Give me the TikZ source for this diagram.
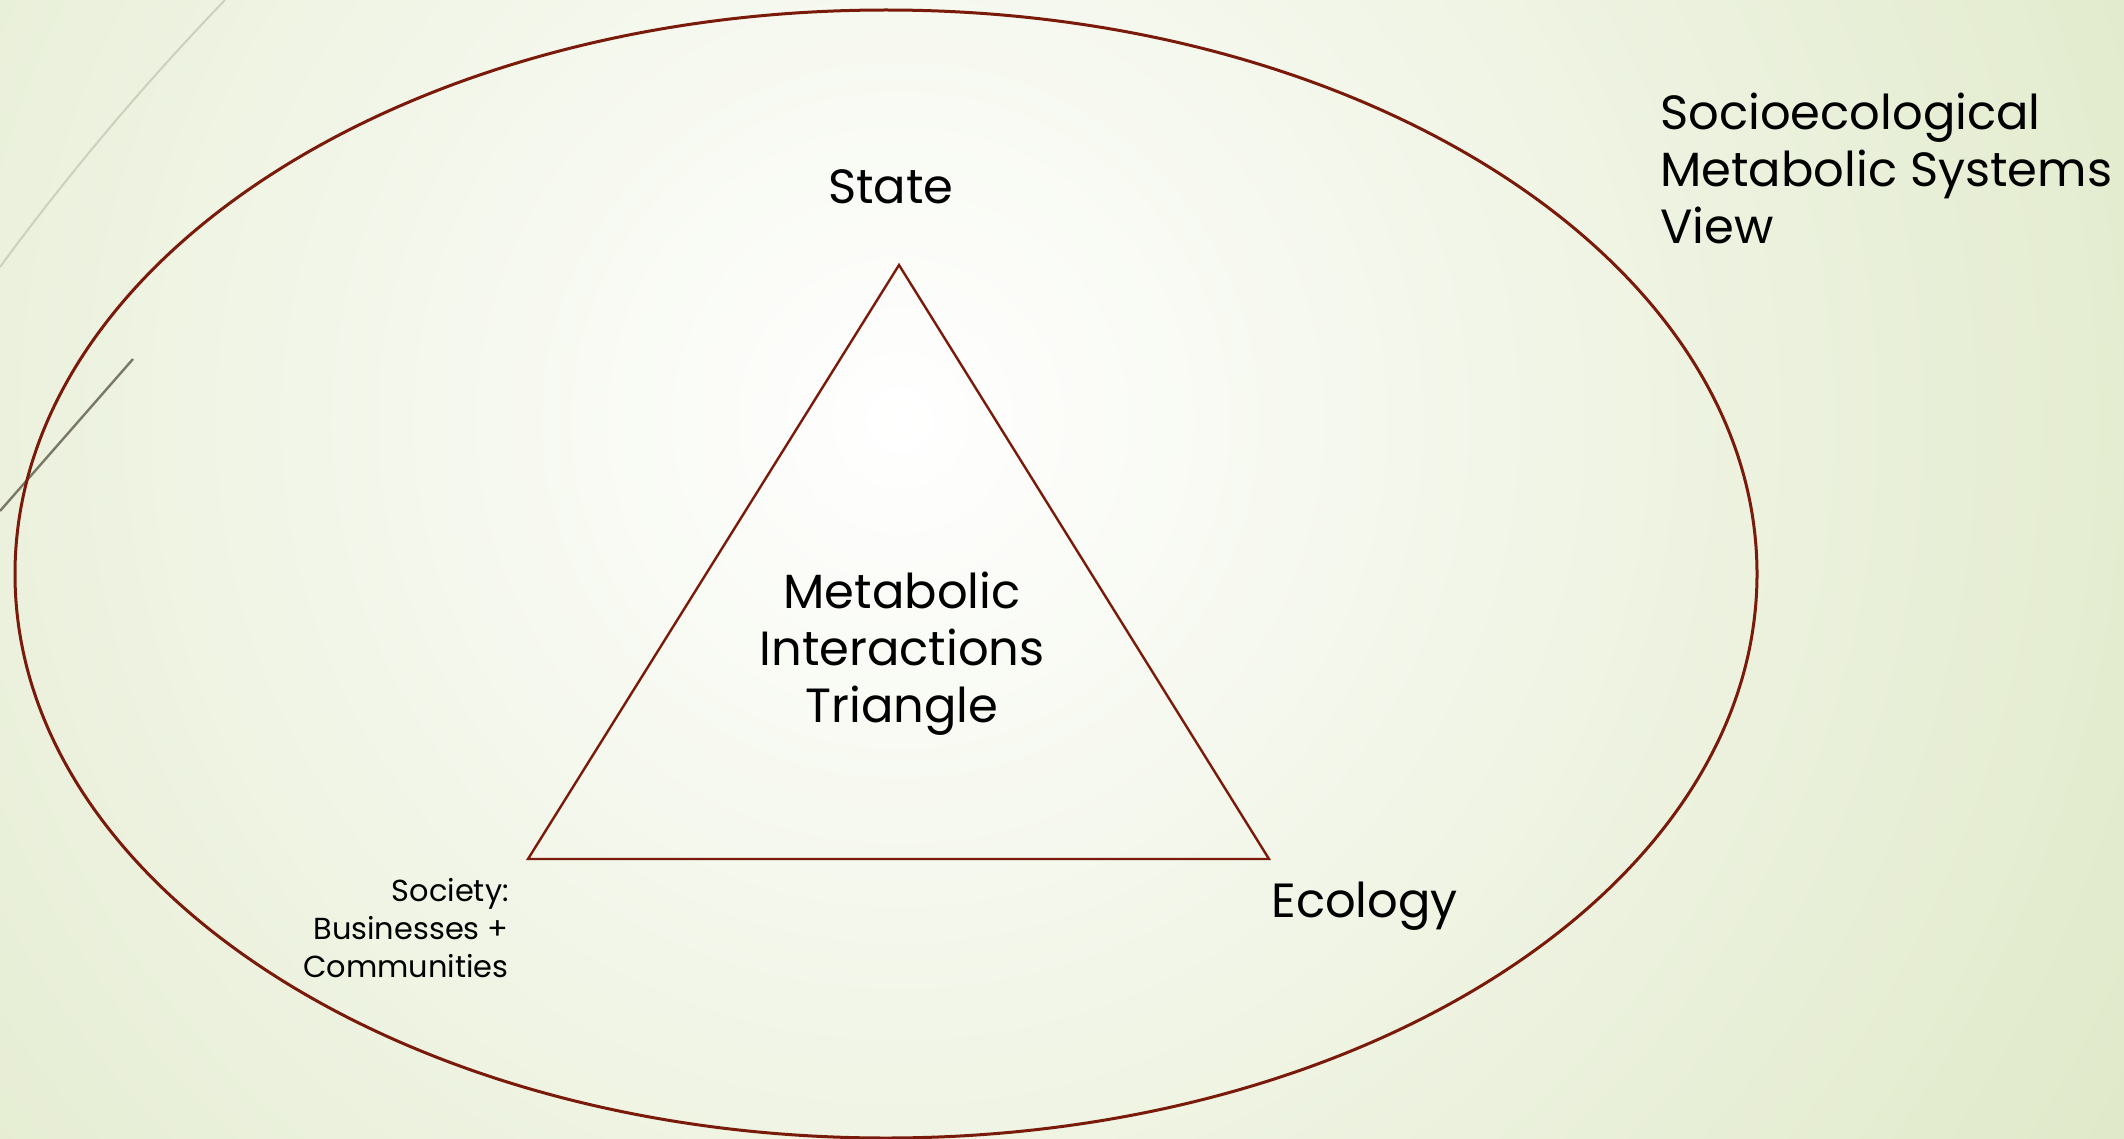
\documentclass[tikz,border=0pt]{standalone}
\usepackage{fontspec}
\setmainfont{Poppins}
\usetikzlibrary{shapes.geometric}
\definecolor{bggreen}{RGB}{222,232,198}
\definecolor{rimred}{RGB}{122,26,10}
\definecolor{paleline}{RGB}{205,208,188}
\definecolor{darkline}{RGB}{122,120,102}
\begin{document}
\begin{tikzpicture}[x=0.5pt,y=-0.5pt,
  rim/.style={draw=rimred, line width=1.5pt},
  bigtxt/.style={font=\fontsize{24}{28.5}\selectfont, inner sep=0pt, text=black},
  smalltxt/.style={font=\fontsize{15.2}{19}\selectfont, inner sep=0pt, text=black}]
\useasboundingbox (0,0) rectangle (2124,1139);
\begin{scope}
  \clip (0,0) rectangle (2124,1139);
  \fill[bggreen] (0,0) rectangle (2124,1139);
  \shade[inner color=white, outer color=bggreen] (900,420) circle (1500);
\end{scope}
% decorative lines
\draw[paleline, line width=1pt] (225,0) .. controls (150,78) and (75,165) .. (0,267);
\draw[darkline, line width=1.2pt] (133,359) -- (0,511);
% ellipse
\node[rim, ellipse, minimum width=871pt, minimum height=564pt, inner sep=0pt] (sys) at (886,574) {};
% triangle
\coordinate (apex) at (899,265);
\coordinate (bl) at (528,859);
\coordinate (br) at (1269,859);
\draw[rim, line width=1.2pt, line join=miter] (apex) -- (br) -- (bl) -- cycle;
% texts
\node[bigtxt, anchor=base] (state) at (891,204) {State};
\node[bigtxt, align=center, anchor=center] (mit) at (902,654) {Metabolic\\Interactions\\Triangle};
\node[bigtxt, anchor=base west] (eco) at (1271,917) {Ecology};
\node[smalltxt, align=right, anchor=east] (soc) at (509,928) {Society:\\Businesses +\\Communities};
\node[bigtxt, align=left, anchor=west] (title) at (1660,168) {Socioecological\\Metabolic Systems\\View};
\end{tikzpicture}
\end{document}
